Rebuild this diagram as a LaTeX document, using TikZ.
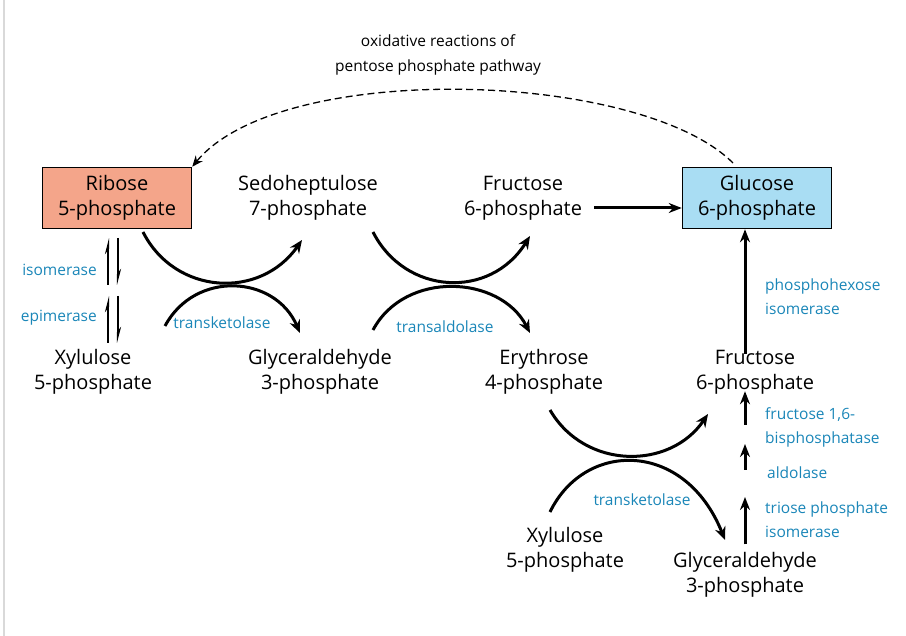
\documentclass[tikz,border=0pt]{standalone}
\usepackage{fontspec}
\setmainfont{Open Sans}
\usetikzlibrary{arrows.meta}
\definecolor{enzblue}{HTML}{1A86B8}
\definecolor{ribfill}{HTML}{F4A58A}
\definecolor{glcfill}{HTML}{A9DDF3}
\begin{document}
\begin{tikzpicture}[
        x=1pt, y=-1pt,
        every node/.style={font=\fontsize{20}{25}\selectfont, align=center, inner sep=2pt},
        box/.style={draw, line width=1.5pt, minimum width=149pt, minimum height=61pt},
        enz/.style={text=enzblue, font=\fontsize{15.5}{24}\selectfont},
        arrow/.style={-{Stealth[length=13pt,width=10pt]}, line width=3pt},
        half/.style={-{Stealth[harpoon,length=12pt,width=6pt]}, line width=2.6pt},
        curve/.style={-{Stealth[length=13pt,width=11pt]}, line width=3pt}
    ]
    \useasboundingbox (0,0) rectangle (906,636);
    \draw[gray!30, line width=2pt] (4,0) -- (4,636);
    % compounds
    \node[box, fill=ribfill] (rib) at (117,198) {Ribose\\5-phosphate};
    \node (sedo) at (308,198) {Sedoheptulose\\7-phosphate};
    \node (fruA) at (523,198) {Fructose\\6-phosphate};
    \node[box, fill=glcfill] (glc) at (757,198) {Glucose\\6-phosphate};
    \node (xylA) at (93,372) {Xylulose\\5-phosphate};
    \node (gapA) at (320,372) {Glyceraldehyde\\3-phosphate};
    \node (ery) at (544,372) {Erythrose\\4-phosphate};
    \node (fruB) at (755,372) {Fructose\\6-phosphate};
    \node (xylB) at (565,550) {Xylulose\\5-phosphate};
    \node (gapB) at (745,575) {Glyceraldehyde\\3-phosphate};
    \node[font=\fontsize{15.5}{25}\selectfont] (oxi) at (438,55) {oxidative reactions of\\pentose phosphate pathway};
    % enzymes
    \node[enz, anchor=east] (isom) at (99,270) {isomerase};
    \node[enz, anchor=east] (epim) at (99,318) {epimerase};
    \node[enz] (tk1) at (222,323) {transketolase};
    \node[enz] (ta) at (445,327) {transaldolase};
    \node[enz] (tk2) at (642,500) {transketolase};
    \node[enz, anchor=west, align=left] (phi) at (763,297) {phosphohexose\\isomerase};
    \node[enz, anchor=west, align=left] (fbp) at (763,427) {fructose 1,6-\\bisphosphatase};
    \node[enz, anchor=west] (ald) at (765,473) {aldolase};
    \node[enz, anchor=west, align=left] (tpi) at (763,520) {triose phosphate\\isomerase};
    % coordinates
    \coordinate (c1) at (143,232); \coordinate (c2) at (302,240);
    \coordinate (c3) at (165,326); \coordinate (c4) at (300,333);
    \coordinate (c5) at (373,232); \coordinate (c6) at (530,236);
    \coordinate (c7) at (373,330); \coordinate (c8) at (530,333);
    \coordinate (c9) at (550,410); \coordinate (c10) at (708,414);
    \coordinate (c11) at (550,512); \coordinate (c12) at (725,540);
    % oxidative branch
    \draw[dash pattern=on 7pt off 4pt, line width=1.3pt, -{Stealth[length=11pt,width=9pt]}] (733,163) .. controls (640,70) and (280,60) .. (rib.north east);
    % isomerase / epimerase
    \draw[half] (108,285) -- (108,238);
    \draw[half] (118,238) -- (118,285);
    \draw[half] (108,343) -- (108,296);
    \draw[half] (118,296) -- (118,343);
    % exchange reactions
    \draw[curve] (c1) .. controls (175,295) and (260,300) .. (c2);
    \draw[curve] (c3) .. controls (195,270) and (275,275) .. (c4);
    \draw[curve] (c5) .. controls (405,295) and (490,300) .. (c6);
    \draw[curve] (c7) .. controls (405,270) and (500,275) .. (c8);
    \draw[curve] (c9) .. controls (585,470) and (670,470) .. (c10);
    \draw[curve] (c11) .. controls (585,440) and (685,440) .. (c12);
    % straight steps
    \draw[arrow] ([xshift=10pt]fruA.east |- 0,208) -- (glc.west |- 0,208);
    \draw[arrow] ([yshift=-6pt]fruB.north -| 745,0) -- (glc.south -| 745,0);
    \draw[arrow] (745,425) -- ([yshift=5pt]fruB.south -| 745,0);
    \draw[arrow] (745,470) -- (745,444);
    \draw[arrow] ([yshift=6pt]gapB.north -| 745,0) -- (745,497);
\end{tikzpicture}
\end{document}
